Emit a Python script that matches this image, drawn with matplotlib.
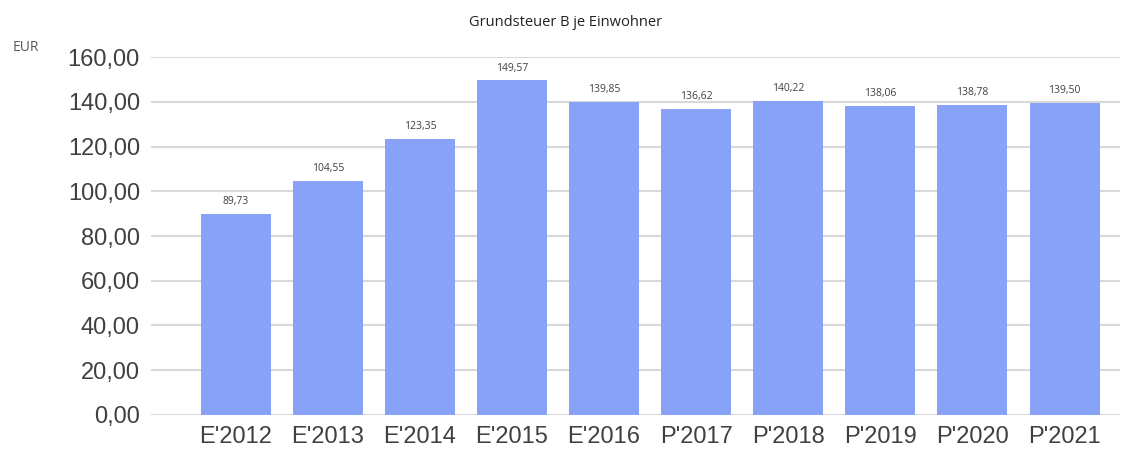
import numpy as np
import matplotlib.pyplot as plt

# data
years = ["E'2012", "E'2013", "E'2014", "E'2015", "E'2016",
         "P'2017", "P'2018", "P'2019", "P'2020", "P'2021"]
values = [89.73, 104.55, 123.35, 149.57, 139.85,
          136.62, 140.22, 138.06, 138.78, 139.50]
yticks = [0, 20, 40, 60, 80, 100, 120, 140, 160]

bar_color = '#87a2f7'
text_color = '#404040'


def de_fmt(v):
    return f'{v:.2f}'.replace('.', ',')


fig = plt.figure(figsize=(11.38, 4.5), dpi=100)
ax = fig.add_axes([0.1327, 0.078, 0.8513, 0.795])

x = np.arange(len(years))
bars = ax.bar(x, values, width=0.76, color=bar_color, zorder=2)

for xi, v in zip(x, values):
    ax.annotate(de_fmt(v), (xi, v), xytext=(0, 5), textcoords='offset points',
                ha='center', va='bottom', fontsize=7.5, color=text_color,
                family='Open Sans')

ax.set_xlim(-0.92, 9.6)
ax.set_ylim(0, 160)
ax.set_yticks(yticks)
ax.set_yticklabels([de_fmt(t) for t in yticks], family='Liberation Sans',
                   fontsize=17, color=text_color)
ax.set_xticks(x)
ax.set_xticklabels(years, family='Liberation Sans', fontsize=17, color=text_color)

ax.grid(axis='y', color='#d9d9d9', linewidth=1.5, zorder=0)
ax.tick_params(length=0, pad=8)
for s in ax.spines.values():
    s.set_visible(False)

fig.text(0.497, 0.95, 'Grundsteuer B je Einwohner', ha='center', va='center',
         fontsize=10.5, color='#222222', family='Open Sans')
fig.text(0.011, 0.895, 'EUR', ha='left', va='center', fontsize=10,
         color='#595959', family='Open Sans')

fig.savefig('out.png', dpi=100)
